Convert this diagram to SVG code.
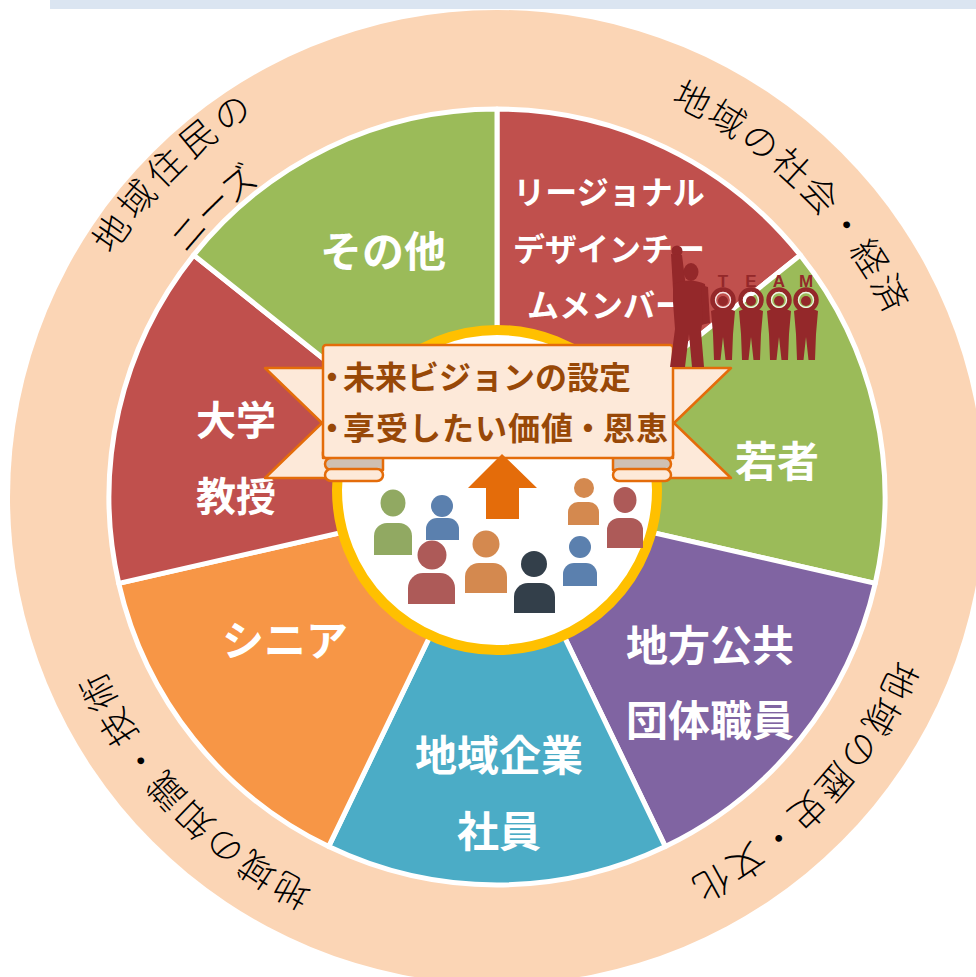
<svg xmlns="http://www.w3.org/2000/svg" width="976" height="977" viewBox="0 0 976 977">
  <style>
    .wedge { stroke: #FFFFFF; stroke-width: 5; stroke-linejoin: round; }
    .lbl { font-family: "Noto Sans CJK JP", "Noto Sans", sans-serif; font-weight: 700; fill: #FFFFFF; text-anchor: middle; dominant-baseline: central; }
    .ring { font-family: "Noto Sans CJK JP", "Noto Sans", sans-serif; font-weight: 300; font-size: 36px; fill: #000000; text-anchor: middle; dominant-baseline: central; }
    .ban { fill: #FDE9D9; stroke: #E46C0A; stroke-width: 2.5; stroke-linejoin: round; }
    .fold { fill: #CFC0B3; stroke: #E46C0A; stroke-width: 2.5; stroke-linejoin: round; }
    .btxt { font-family: "Noto Sans CJK JP", "Noto Sans", sans-serif; font-weight: 700; font-size: 32px; fill: #984807; dominant-baseline: central; }
    .team { fill: #94282A; }
    .arms { fill: none; stroke: #94282A; stroke-width: 4.5; }
    .glint { fill: none; stroke: #FFFFFF; stroke-width: 1.3; opacity: 0.85; }
    .tl { font-family: "Liberation Sans", Arial, sans-serif; font-weight: 700; font-size: 17px; fill: #94282A; text-anchor: middle; }
  </style>
  <defs>
    <!-- clockwise circular guides, midpoint at the label's centre angle -->
    <path id="arcUL1" d="M827.6,831.1 A470,470 0 1 1 166.4,162.9 A470,470 0 1 1 827.6,831.1"/>
    <path id="arcUL2" d="M783.2,789.2 A409,409 0 1 1 210.8,204.8 A409,409 0 1 1 783.2,789.2"/>
    <path id="arcUR" d="M184.5,813.8 A445,445 0 1 1 809.5,180.2 A445,445 0 1 1 184.5,813.8"/>
    <path id="arcLR" d="M171.5,193.5 A445,445 0 1 1 822.5,800.5 A445,445 0 1 1 171.5,193.5"/>
    <path id="arcLL" d="M817.1,187.9 A445,445 0 1 1 176.9,806.1 A445,445 0 1 1 817.1,187.9"/>
    <!-- one member of the TEAM line-up, holding a letter overhead -->
    <g id="member">
      <circle class="arms" cx="0" cy="0" r="10.5"/>
      <circle class="glint" cx="0" cy="0" r="7.5"/>
      <circle class="team" cx="0" cy="1" r="5"/>
      <path class="team" d="M-12,11 Q0,5 12,11 L10,34 L9,60 L2.5,60 L0,37 L-2.5,60 L-9,60 L-10,34 Z"/>
    </g>
  </defs>

  <!-- header strip -->
  <rect x="50" y="0" width="926" height="9" fill="#DBE5F1"/>

  <!-- outer band -->
  <g id="outer-band">
    <circle cx="497" cy="497" r="487" fill="#FBD5B5"/>
  </g>

  <!-- stakeholder wedges -->
  <g id="wedge-regional">
    <path class="wedge" fill="#C0504D" d="M497,497 L497,109 A388,388 0 0 1 800.35,255.09 Z"/>
    <text class="lbl" font-size="32" x="609" y="190">リージョナル</text>
    <text class="lbl" font-size="32" x="609" y="247">デザインチー</text>
    <text class="lbl" font-size="32" x="607" y="303">ムメンバー</text>
  </g>
  <g id="wedge-youth">
    <path class="wedge" fill="#9BBB59" d="M497,497 L800.35,255.09 A388,388 0 0 1 875.27,583.34 Z"/>
    <text class="lbl" font-size="42" x="777" y="458">若者</text>
  </g>
  <g id="wedge-public">
    <path class="wedge" fill="#8064A2" d="M497,497 L875.27,583.34 A388,388 0 0 1 665.35,846.58 Z"/>
    <text class="lbl" font-size="42" x="710" y="642">地方公共</text>
    <text class="lbl" font-size="42" x="710" y="717">団体職員</text>
  </g>
  <g id="wedge-company">
    <path class="wedge" fill="#4BACC6" d="M497,497 L665.35,846.58 A388,388 0 0 1 328.65,846.58 Z"/>
    <text class="lbl" font-size="42" x="499" y="752">地域企業</text>
    <text class="lbl" font-size="42" x="499" y="828">社員</text>
  </g>
  <g id="wedge-senior">
    <path class="wedge" fill="#F79646" d="M497,497 L328.65,846.58 A388,388 0 0 1 118.73,583.34 Z"/>
    <text class="lbl" font-size="42" x="285" y="637">シニア</text>
  </g>
  <g id="wedge-professor">
    <path class="wedge" fill="#C0504D" d="M497,497 L118.73,583.34 A388,388 0 0 1 193.65,255.09 Z"/>
    <text class="lbl" font-size="40" x="236" y="418">大学</text>
    <text class="lbl" font-size="40" x="236" y="494">教授</text>
  </g>
  <g id="wedge-other">
    <path class="wedge" fill="#9BBB59" d="M497,497 L193.65,255.09 A388,388 0 0 1 497,109 Z"/>
    <text class="lbl" font-size="42" x="383" y="248">その他</text>
  </g>

  <!-- curved captions on the outer band -->
  <g id="band-labels">
    <text class="ring" letter-spacing="7"><textPath href="#arcUL1" startOffset="50%">地域住民の</textPath></text>
    <text class="ring" letter-spacing="0.5"><textPath href="#arcUL2" startOffset="50%">ニーズ</textPath></text>
    <text class="ring" letter-spacing="4.4"><textPath href="#arcUR" startOffset="50%">地域の社会・経済</textPath></text>
    <text class="ring" letter-spacing="4.4"><textPath href="#arcLR" startOffset="50%">地域の歴史・文化</textPath></text>
    <text class="ring" letter-spacing="4.4"><textPath href="#arcLL" startOffset="50%">地域の知識・技術</textPath></text>
  </g>

  <!-- central community circle -->
  <g id="community">
    <circle cx="497" cy="490" r="160" fill="#FFFFFF" stroke="#FFC000" stroke-width="10"/>
    <g fill="#91A962">
      <ellipse cx="393" cy="503" rx="12.5" ry="13.5"/>
      <path d="M374,555 V536 A13,13 0 0 1 387,523 H399 A13,13 0 0 1 412,536 V555 Z"/>
    </g>
    <g fill="#5B80AE">
      <circle cx="442" cy="506" r="11"/>
      <path d="M426,540 V529 A11,11 0 0 1 437,518 H448 A11,11 0 0 1 459,529 V540 Z"/>
    </g>
    <g fill="#AD5A58">
      <circle cx="432" cy="555" r="14.5"/>
      <path d="M408,604 V588 A15,15 0 0 1 423,573 H440 A15,15 0 0 1 455,588 V604 Z"/>
    </g>
    <g fill="#D4894F">
      <circle cx="486" cy="544" r="13.5"/>
      <path d="M465,593 V577 A14,14 0 0 1 479,563 H493 A14,14 0 0 1 507,577 V593 Z"/>
    </g>
    <g fill="#333F4A">
      <circle cx="534" cy="564" r="13"/>
      <path d="M514,613 V597 A14,14 0 0 1 528,583 H541 A14,14 0 0 1 555,597 V613 Z"/>
    </g>
    <g fill="#5B80AE">
      <circle cx="580" cy="547" r="11"/>
      <path d="M563,586 V574 A11,11 0 0 1 574,563 H586 A11,11 0 0 1 597,574 V586 Z"/>
    </g>
    <g fill="#D4894F">
      <circle cx="584" cy="488" r="10"/>
      <path d="M568,525 V512 A10,10 0 0 1 578,502 H589 A10,10 0 0 1 599,512 V525 Z"/>
    </g>
    <g fill="#AD5A58">
      <ellipse cx="625" cy="500" rx="11.5" ry="13"/>
      <path d="M607,548 V530 A12,12 0 0 1 619,518 H631 A12,12 0 0 1 643,530 V548 Z"/>
    </g>
  </g>

  <!-- vision ribbon -->
  <g id="vision-ribbon">
    <path class="ban" d="M265,368 H345 V478 H265 L322,423 Z"/>
    <path class="ban" d="M731,368 H651 V478 H731 L674,423 Z"/>
    <path class="fold" d="M383,452 V470 H331 A6,6 0 0 1 331,458 H323 V452 Z"/>
    <path class="ban" d="M331,469 H377 A6,6 0 0 1 377,481 H331 A6,6 0 0 1 331,469 Z"/>
    <path class="fold" d="M613,452 V470 H665 A6,6 0 0 0 665,458 H673 V452 Z"/>
    <path class="ban" d="M665,469 H619 A6,6 0 0 0 619,481 H665 A6,6 0 0 0 665,469 Z"/>
    <rect class="ban" x="323" y="345" width="350" height="113" rx="3"/>
    <text class="btxt" y="375"><tspan x="316">・</tspan><tspan x="343">未来ビジョンの設定</tspan></text>
    <text class="btxt" y="426"><tspan x="316">・</tspan><tspan x="343" letter-spacing="1">享受したい価値</tspan><tspan x="572">・</tspan><tspan x="603" letter-spacing="1">恩恵</tspan></text>
  </g>

  <!-- upward arrow -->
  <g id="arrow">
    <polygon fill="#E46C0A" points="502,454 537,488 519,488 519,519 486,519 486,488 468,488"/>
  </g>

  <!-- TEAM figure group -->
  <g id="team-figure">
    <g class="team">
      <ellipse cx="677" cy="251" rx="5.5" ry="5.5"/>
      <polygon points="671,254 682,255 686,287 673,289"/>
      <ellipse cx="691" cy="272" rx="7.5" ry="9"/>
      <path d="M673,284 Q690,277 705,284 L708,323 L702,325 L701,331 L704,367 L692,367 L689,334 L685,367 L670,367 L675,329 L673,302 Z"/>
      <polygon points="701,285 708,287 710,323 703,324"/>
    </g>
    <use href="#member" x="723" y="300"/>
    <use href="#member" x="751" y="300"/>
    <use href="#member" x="779" y="300"/>
    <use href="#member" x="806" y="300"/>
    <text class="tl" x="723" y="287">T</text>
    <text class="tl" x="751" y="287">E</text>
    <text class="tl" x="779" y="287">A</text>
    <text class="tl" x="806" y="287">M</text>
  </g>
</svg>
